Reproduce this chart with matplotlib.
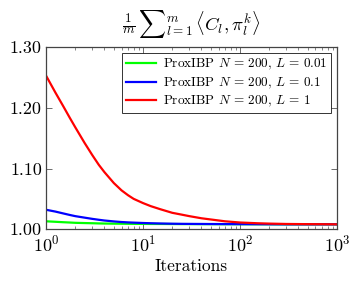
import matplotlib
matplotlib.use("Agg")
import matplotlib.pyplot as plt
from matplotlib.ticker import FixedLocator, FormatStrFormatter, LogLocator, NullFormatter

plt.rcParams['font.family'] = 'serif'
plt.rcParams['font.serif'] = ['cmr10']
plt.rcParams['mathtext.fontset'] = 'cm'
plt.rcParams['axes.formatter.use_mathtext'] = True

# iterations (log-spaced sample points)
iters = [1, 1.25, 1.5, 1.75, 2, 2.5, 3, 3.5, 4, 5, 6, 7, 8, 10, 12, 15, 20, 25,
         30, 40, 50, 70, 100, 150, 200, 300, 500, 700, 1000]

# L = 0.01
green_vals = [1.013, 1.0122, 1.0115, 1.011, 1.0105, 1.0101, 1.0098, 1.0095, 1.0093,
              1.0091, 1.009, 1.0089, 1.0088, 1.0087, 1.0086, 1.0086, 1.0085, 1.0084,
              1.0084, 1.0083, 1.0083, 1.0082, 1.0082, 1.0081, 1.0081, 1.008, 1.008,
              1.008, 1.008]
# L = 0.1
blue_vals = [1.032, 1.029, 1.026, 1.0235, 1.0215, 1.019, 1.017, 1.0155, 1.0143,
             1.0128, 1.0118, 1.0112, 1.0108, 1.0102, 1.0098, 1.0094, 1.009, 1.0088,
             1.0087, 1.0086, 1.0085, 1.0084, 1.0083, 1.0082, 1.0081, 1.008, 1.008,
             1.008, 1.008]
# L = 1
red_vals = [1.253, 1.225, 1.203, 1.184, 1.168, 1.142, 1.122, 1.106, 1.094,
            1.076, 1.064, 1.056, 1.050, 1.043, 1.038, 1.033, 1.027, 1.024,
            1.0215, 1.018, 1.016, 1.013, 1.011, 1.0098, 1.0092, 1.0086, 1.0083,
            1.0082, 1.008]

labels = [r'ProxIBP $N\,=\,200$, $L\,=\,0.01$',
          r'ProxIBP $N\,=\,200$, $L\,=\,0.1$',
          r'ProxIBP $N\,=\,200$, $L\,=\,1$']
colors = ['#00ff00', '#0000ff', '#ff0000']

fig = plt.figure(figsize=(3.57, 2.84), dpi=100)
ax = fig.add_axes([0.129, 0.193, 0.815, 0.641])

for vals, lab, c in zip([green_vals, blue_vals, red_vals], labels, colors):
    ax.plot(iters, vals, color=c, lw=1.6, label=lab)

ax.set_xscale('log')
ax.set_xlim(1, 1000)
ax.set_ylim(1.0, 1.3)
ax.yaxis.set_major_locator(FixedLocator([1.0, 1.1, 1.2, 1.3]))
ax.yaxis.set_major_formatter(FormatStrFormatter('%.2f'))
ax.xaxis.set_major_locator(LogLocator(base=10))
ax.xaxis.set_minor_locator(LogLocator(base=10, subs=range(2, 10)))
ax.xaxis.set_minor_formatter(NullFormatter())

ax.tick_params(which='both', direction='in', top=True, right=True, labelsize=13,
               color='#555555')
ax.tick_params(which='major', length=4, width=0.6, pad=3)
ax.tick_params(which='minor', length=2.5, width=0.5)
for s in ax.spines.values():
    s.set_color('#444444')
    s.set_linewidth(0.9)

ax.set_xlabel('Iterations', fontsize=12.5, labelpad=3)
ax.set_title(r'$\frac{1}{m}\,{\sum}_{l=1}^{m}\,\langle C_l, \pi_l^k\rangle$',
             fontsize=13.5, pad=12)

leg = ax.legend(loc='upper right', fontsize=9.5, frameon=True, fancybox=False,
                edgecolor='black', handlelength=2.3, borderpad=0.3, labelspacing=0.25,
                handletextpad=0.5, borderaxespad=0.45)
leg.get_frame().set_linewidth(0.7)

fig.savefig('out.png', dpi=100)
